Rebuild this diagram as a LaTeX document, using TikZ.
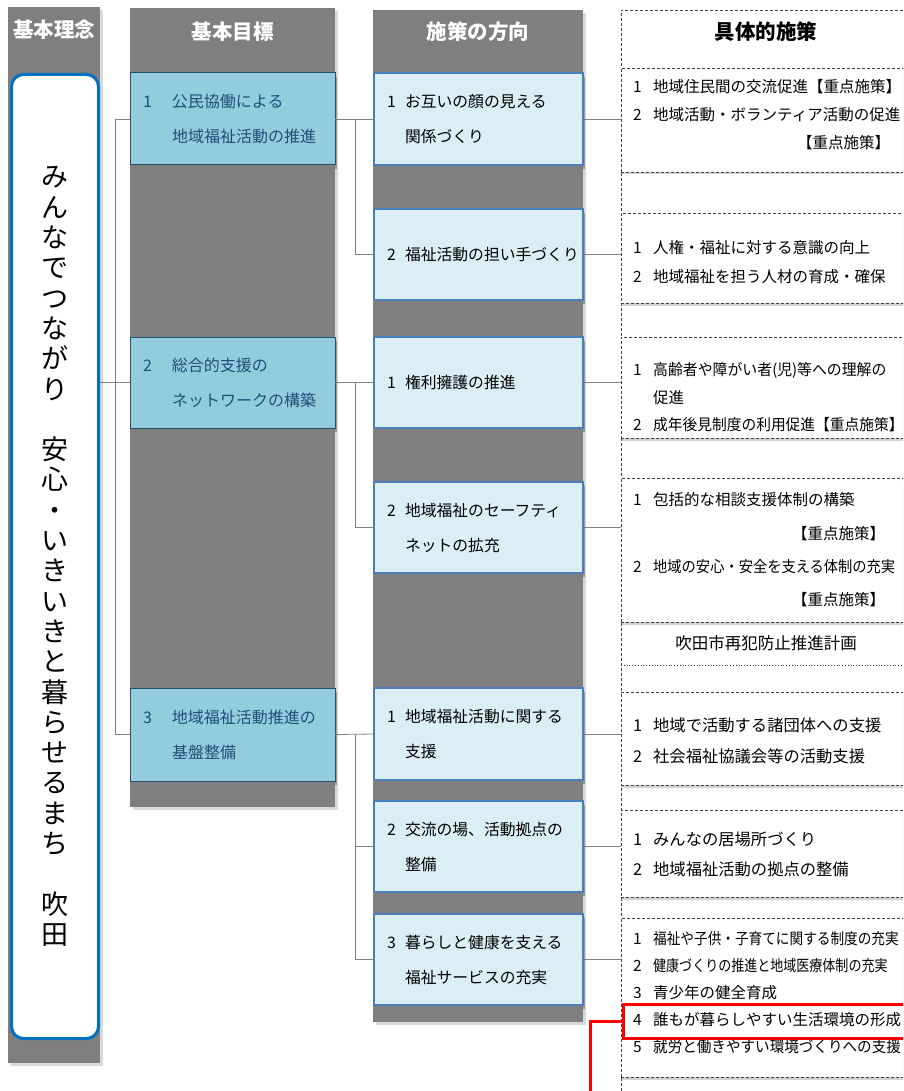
\documentclass[tikz,border=0pt]{standalone}
\usepackage{fontspec}
\usepackage{graphicx}
\setmainfont{Noto Sans CJK JP}
\usetikzlibrary{shadows}

\definecolor{bargray}{HTML}{7F7F7F}
\definecolor{goalfill}{HTML}{93CDDD}
\definecolor{goalline}{HTML}{24506E}
\definecolor{goaltext}{HTML}{1F4E79}
\definecolor{dirfill}{HTML}{DBEEF4}
\definecolor{dirline}{HTML}{4A7EBB}
\definecolor{visline}{HTML}{0070C0}
\definecolor{linkgray}{HTML}{808080}
\definecolor{hlred}{HTML}{FF0000}

\newcommand{\itemlead}[2][20pt]{\makebox[#1][l]{#2}}

\begin{document}
\begin{tikzpicture}[x=1pt,y=-1pt,
    bar/.style={fill=bargray,inner sep=0pt,outer sep=0pt,anchor=north west,
      drop shadow={shadow xshift=3pt,shadow yshift=-3pt,opacity=.3}},
    goalbox/.style={fill=goalfill,draw=goalline,line width=1pt,anchor=north west,
      inner xsep=13pt,inner ysep=0pt,outer sep=0pt,text width=179pt,align=left,
      text=goaltext,font=\fontsize{16pt}{35pt}\selectfont,
      drop shadow={shadow xshift=2pt,shadow yshift=-4pt,opacity=.7}},
    dirbox/.style={fill=dirfill,draw=dirline,line width=1.2pt,anchor=north west,
      inner xsep=13pt,inner ysep=0pt,outer sep=0pt,text width=183pt,align=left,
      font=\fontsize{15.8pt}{35pt}\selectfont,
      drop shadow={shadow xshift=2pt,shadow yshift=-4pt,opacity=.7}},
    measbox/.style={draw=black!75,dash pattern=on 3pt off 2pt,line width=.6pt,fill=white,
      anchor=north west,minimum width=290pt,inner sep=0pt,outer sep=0pt,
      drop shadow={shadow xshift=0pt,shadow yshift=-2.5pt,opacity=.35}},
    meastext/.style={align=left,inner sep=0pt,anchor=west,
      font=\fontsize{15.5pt}{#1}\selectfont},
    link/.style={draw=linkgray,line width=.8pt}]
  \tikzstyle{headw}=[text=white,font=\fontsize{20.5pt}{24pt}\selectfont\bfseries]
  \tikzstyle{headb}=[text=black,font=\fontsize{20.5pt}{24pt}\selectfont\bfseries]
  \tikzstyle{hlline}=[draw=hlred,line width=3pt]

  \useasboundingbox (0,0) rectangle (903,1091);
  \clip (0,0) rectangle (903,1091);

  \node[bar,minimum width=92pt,minimum height=1056pt] (bar1) at (8,7) {};
  \node[bar,minimum width=205pt,minimum height=799pt] (bar2) at (130,8) {};
  \node[bar,minimum width=210pt,minimum height=1012pt] (bar3) at (373,10) {};

  \node[headw] (hd1) at (54,30) {基本理念};
  \node[headw] (hd2) at (232.5,32) {基本目標};
  \node[headw] (hd3) at (478,32) {施策の方向};
  \node[headb] (hd4) at (766,32) {具体的施策};

  \node[draw=visline,line width=3pt,fill=white,rounded corners=12pt,anchor=north west,
    minimum width=87pt,minimum height=964pt,inner sep=0pt,align=center,
    font=\fontsize{27pt}{30.3pt}\selectfont] (vis) at (10,73)
    {み\\ん\\な\\で\\つ\\な\\が\\り\\\mbox{}\\安\\心\\・\\い\\き\\い\\き\\と\\暮\\ら\\せ\\る\\ま\\ち\\\mbox{}\\吹\\田};

  \node[goalbox,minimum height=92pt] (goal1) at (130,73)
    {\itemlead[29pt]{1}公民協働による\\\itemlead[29pt]{}地域福祉活動の推進};
  \node[goalbox,minimum height=91pt] (goal2) at (130,337)
    {\itemlead[29pt]{2}総合的支援の\\\itemlead[29pt]{}ネットワークの構築};
  \node[goalbox,minimum height=93pt] (goal3) at (130,688)
    {\itemlead[29pt]{3}地域福祉活動推進の\\\itemlead[29pt]{}基盤整備};

  \node[dirbox,minimum height=92pt] (dir1) at (374,73)
    {\itemlead[18pt]{1}お互いの顔の見える\\\itemlead[18pt]{}関係づくり};
  \node[dirbox,minimum height=91pt] (dir2) at (374,209)
    {\itemlead[18pt]{2}福祉活動の担い手づくり};
  \node[dirbox,minimum height=91pt] (dir3) at (374,337)
    {\itemlead[18pt]{1}権利擁護の推進};
  \node[dirbox,minimum height=91pt] (dir4) at (374,482)
    {\itemlead[18pt]{2}地域福祉のセーフティ\\\itemlead[18pt]{}ネットの拡充};
  \node[dirbox,minimum height=92pt] (dir5) at (374,688)
    {\itemlead[18pt]{1}地域福祉活動に関する\\\itemlead[18pt]{}支援};
  \node[dirbox,minimum height=91pt] (dir6) at (374,801)
    {\itemlead[18pt]{2}交流の場、活動拠点の\\\itemlead[18pt]{}整備};
  \node[dirbox,minimum height=91pt] (dir7) at (374,914)
    {\itemlead[18pt]{3}暮らしと健康を支える\\\itemlead[18pt]{}福祉サービスの充実};

  % 具体的施策
  \draw[draw=black!75,dash pattern=on 3pt off 2pt,line width=.6pt] (621,1091) -- (621,10) -- (915,10);
  \node[measbox,minimum height=104pt] (ma) at (621,68) {};
  \node[measbox,minimum height=90pt] (mb) at (621,213) {};
  \node[measbox,minimum height=101pt] (mc) at (621,337) {};
  \node[measbox,minimum height=144pt] (md) at (621,478) {};
  \node[anchor=north west,minimum width=290pt,minimum height=43pt,inner sep=0pt,
    font=\fontsize{16.5pt}{20pt}\selectfont] (pl) at (621,622) {吹田市再犯防止推進計画};
  \draw[black!75,dotted,line width=.8pt] (pl.south west) -- (pl.south east);
  \node[measbox,minimum height=93pt] (me) at (621,692) {};
  \node[measbox,minimum height=87pt] (mf) at (621,810) {};
  \node[measbox,minimum height=159pt] (mg) at (621,918) {};

  \node[meastext=28pt] (ta) at (633,115)
    {\itemlead{1}地域住民間の交流促進【重点施策】\\\itemlead{2}地域活動・ボランティア活動の促進\\\hspace*{164pt}【重点施策】};
  \node[meastext=29pt] (tb) at (633,262.5)
    {\itemlead{1}人権・福祉に対する意識の向上\\\itemlead{2}地域福祉を担う人材の育成・確保};
  \node[meastext=27.5pt] (tc) at (633,397.5)
    {\itemlead{1}\scalebox{0.96}[1]{高齢者や障がい者(児)等への理解の}\\\itemlead{}促進\\\itemlead{2}\scalebox{0.95}[1]{成年後見制度の利用促進【重点施策】}};
  \node[meastext=33.3pt] (td) at (633,550)
    {\itemlead{1}包括的な相談支援体制の構築\\\hspace*{159pt}【重点施策】\\\itemlead{2}\scalebox{0.92}[1]{地域の安心・安全を支える体制の充実}\\\hspace*{159pt}【重点施策】};
  \node[meastext=31pt,font=\fontsize{16.3pt}{31pt}\selectfont] (te) at (633,740.5)
    {\itemlead{1}地域で活動する諸団体への支援\\\itemlead{2}社会福祉協議会等の活動支援};
  \node[meastext=30pt,font=\fontsize{16.3pt}{30pt}\selectfont] (tf) at (633,854)
    {\itemlead{1}みんなの居場所づくり\\\itemlead{2}地域福祉活動の拠点の整備};
  \node[meastext=27pt] (tg) at (633,993)
    {\itemlead{1}\scalebox{0.88}[1]{福祉や子供・子育てに関する制度の充実}\\\itemlead{2}\scalebox{0.84}[1]{健康づくりの推進と地域医療体制の充実}\\\itemlead{3}青少年の健全育成\\\itemlead{4}誰もが暮らしやすい生活環境の形成\\\itemlead{5}\scalebox{0.94}[1]{就労と働きやすい環境づくりへの支援}};

  \draw[link] (vis.east |- goal2.west) -- (goal2.west);
  \draw[link] (goal1.west) -- ++(-15,0) |- (goal3.west);

  \draw[link] (goal1.east) -- (dir1.west);
  \draw[link] (goal1.east) ++(20,0) |- (dir2.west);
  \draw[link] (goal2.east) -- (dir3.west);
  \draw[link] (goal2.east) ++(20,0) |- (dir4.west);
  \draw[link] (goal3.east) -- (dir5.west);
  \draw[link] (goal3.east) ++(20,0) |- (dir6.west);
  \draw[link] (goal3.east) ++(20,0) |- (dir7.west);

  \draw[link] (dir1.east) -- (dir1.east -| ma.west);
  \draw[link] (dir2.east) -- (dir2.east -| mb.west);
  \draw[link] (dir3.east) -- (dir3.east -| mc.west);
  \draw[link] (dir4.east) -- (dir4.east -| md.west);
  \draw[link] (dir5.east) -- (dir5.east -| me.west);
  \draw[link] (dir6.east) -- (dir6.east -| mf.west);
  \draw[link] (dir7.east) -- (dir7.east -| mg.west);

  \node[draw=hlred,line width=3pt,anchor=north west,minimum width=300pt,minimum height=34pt,
    inner sep=0pt] (hl) at (622,1003) {};
  \coordinate (hlfoot) at (590,1091);
  \draw[hlline] (hl.west) -| (hlfoot);
\end{tikzpicture}
\end{document}
